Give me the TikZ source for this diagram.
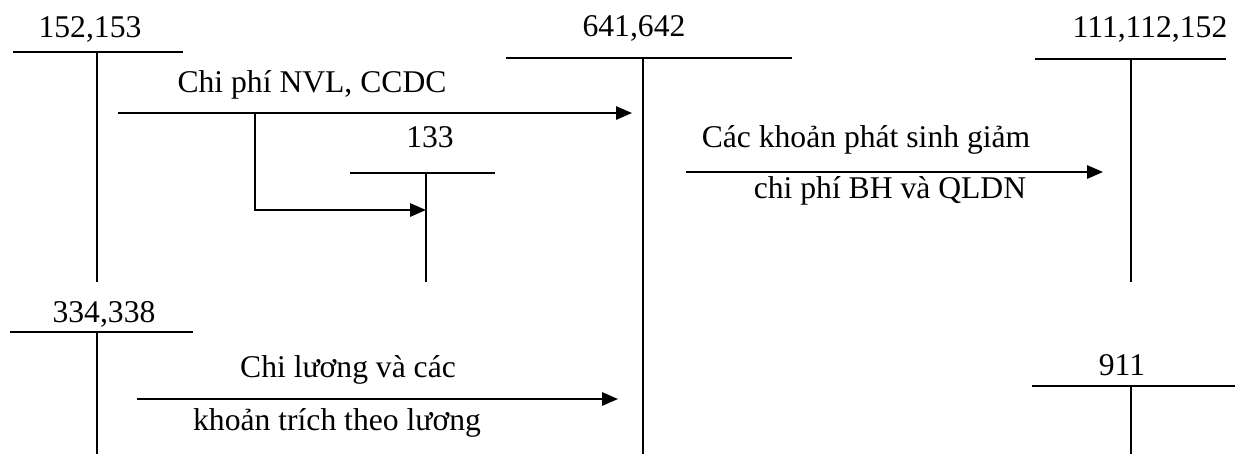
\documentclass[tikz,border=0pt]{standalone}
\usepackage{fontspec}
\setmainfont{Liberation Serif}
\usetikzlibrary{arrows.meta}

\begin{document}
\begin{tikzpicture}[
  x=0.02cm,y=-0.02cm,
  font=\fontsize{18}{21}\selectfont,
  >={Triangle[length=9pt,width=7.5pt]},
  tline/.style={line width=1.1pt},
  tstem/.style={line width=0.8pt},
  flow/.style={->,line width=1.1pt},
  txt/.style={anchor=base,inner sep=0pt}
]
\useasboundingbox (0,0) rectangle (1239,454);

% T-accounts: name/label/label x/label y/left/right/stem x/top/bottom
\foreach \n/\t/\lx/\ly/\l/\r/\s/\top/\bot in {
  nvl/{152,153}/90/37/13/183/97/52/282,
  cp/{641,642}/634/36/506/792/643/58/454,
  vat/{133}/430/147/350/495/426/173/282,
  tien/{111,112,152}/1150/37/1035/1226/1131/59/282,
  luong/{334,338}/104/322/10/193/97/332/454,
  kq/{911}/1122/375/1032/1235/1131/386/454}{
  \node[txt] (\n lbl) at (\lx,\ly) {\t};
  \coordinate (\n w) at (\l,\top);
  \coordinate (\n e) at (\r,\top);
  \coordinate (\n t) at (\s,\top);
  \coordinate (\n b) at (\s,\bot);
  \draw[tline] (\n w) -- (\n e);
  \draw[tstem] (\n t) -- (\n b);
}

% materials and tools into expenses, with the VAT branch
\coordinate (a1s) at (118,113);
\coordinate (a1e) at (632,113);
\coordinate (a1k) at (255,113);
\coordinate (a1d) at (255,210);
\coordinate (a1v) at (426,210);
\draw[flow] (a1s) -- (a1e);
\draw[flow] (a1k) -- (a1d) -- (a1v);
\node[txt] (a1lbl) at (312,92) {Chi phí NVL, CCDC};

% reductions of expenses
\coordinate (a2s) at (686,172);
\coordinate (a2e) at (1103,172);
\draw[flow] (a2s) -- (a2e);
\node[txt] (a2up) at (866,147) {Các khoản phát sinh giảm};
\node[txt] (a2dn) at (890,198) {chi phí BH và QLDN};

% wages and deductions
\coordinate (a3s) at (137,399);
\coordinate (a3e) at (618,399);
\draw[flow] (a3s) -- (a3e);
\node[txt] (a3up) at (348,377) {Chi lương và các};
\node[txt] (a3dn) at (337,430) {khoản trích theo lương};
\end{tikzpicture}
\end{document}
